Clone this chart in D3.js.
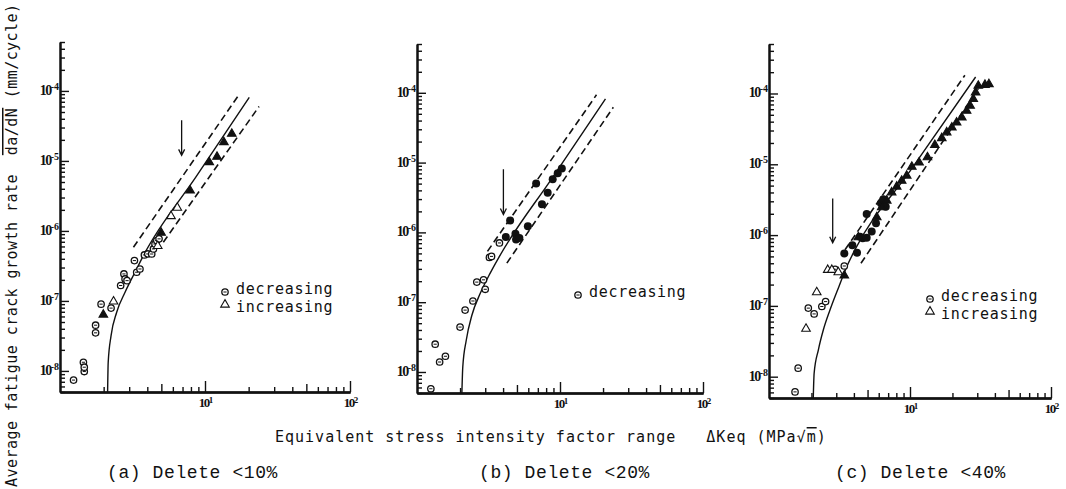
<!DOCTYPE html>
<html>
<head>
<meta charset="utf-8">
<script src="https://cdn.jsdelivr.net/npm/d3@7"></script>
<style>
  body { margin: 0; background: #fff; }
  svg { display: block; }
  .mono { font-family: "DejaVu Sans Mono", monospace; }
  .cap { font-family: "Liberation Mono", "Courier New", monospace; }
  .tk { font-family: "Liberation Serif", serif; font-weight: bold; }
</style>
</head>
<body>
<script>
// data: [dK (MPa sqrt m), da/dN (mm/cycle)]

// (a) Delete <10%
var decA = [[1.24, 7.4e-9], [1.45, 1.33e-8], [1.47, 9.8e-9], [1.47, 1.13e-8], [1.76, 4.5e-8], [1.76, 3.5e-8],
  [1.92, 9.0e-8], [2.25, 7.9e-8], [2.62, 1.66e-7], [2.76, 2.43e-7], [2.81, 2.06e-7], [2.90, 1.95e-7],
  [3.26, 3.77e-7], [3.38, 2.57e-7], [3.56, 2.86e-7], [3.82, 4.54e-7], [4.03, 4.69e-7], [4.29, 4.68e-7],
  [4.41, 5.53e-7], [4.52, 6.5e-7], [4.65, 7.3e-7], [4.82, 7.7e-7]];
var incOpenA = [[2.34, 1.0e-7], [4.72, 6.2e-7], [5.83, 1.66e-6], [6.44, 2.19e-6]];
var incFilledA = [[1.99, 6.5e-8], [4.98, 9.6e-7], [7.89, 3.85e-6], [10.7, 9.8e-6], [12.1, 1.17e-5],
  [13.5, 1.89e-5], [15.3, 2.49e-5]];
var curveA = [[2.13, 5e-9], [2.15, 1.33e-8], [2.25, 3.19e-8], [2.46, 6.9e-8], [2.81, 1.33e-7],
  [3.29, 2.57e-7], [3.76, 4.44e-7], [8.71, 6.0e-6], [20.2, 8.1e-5]];
var upperA = [[3.21, 5.85e-7], [17.3, 9.06e-5]];
var lowerA = [[5.16, 6.9e-7], [23.6, 6.0e-5]];
var arrowA = [6.9, 3.8e-5, 1.2e-5];

// (b) Delete <20%
var decOpenB = [[1.25, 5.75e-9], [1.34, 2.5e-8], [1.44, 1.39e-8], [1.58, 1.68e-8], [2.0, 4.4e-8],
  [2.17, 7.7e-8], [2.46, 1.04e-7], [2.62, 1.94e-7], [2.92, 2.09e-7], [3.0, 1.53e-7], [3.21, 4.38e-7],
  [3.32, 4.53e-7], [3.77, 7.06e-7]];
var decFilledB = [[4.18, 8.6e-7], [4.48, 1.48e-6], [4.88, 9.6e-7], [4.93, 7.9e-7], [5.2, 8.3e-7],
  [5.96, 1.22e-6], [6.81, 5.0e-6], [7.48, 2.52e-6], [8.2, 3.7e-6], [8.89, 5.77e-6], [9.64, 7.03e-6],
  [10.3, 8.2e-6]];
var curveB = [[2.06, 5e-9], [2.09, 1.18e-8], [2.21, 2.85e-8], [2.42, 6.5e-8], [2.77, 1.34e-7],
  [3.25, 2.61e-7], [3.77, 4.53e-7], [8.91, 6.2e-6], [20.8, 8.2e-5]];
var upperB = [[3.11, 5.35e-7], [18.0, 9.35e-5]];
var lowerB = [[4.25, 3.63e-7], [23.6, 6.2e-5]];
var arrowB = [4.02, 8.0e-6, 1.8e-6];

// (c) Delete <40%
var decOpenC = [[1.53, 6.1e-9], [1.61, 1.32e-8], [1.90, 9.3e-8], [2.09, 7.7e-8], [2.37, 9.8e-8],
  [2.52, 1.15e-7], [2.94, 3.29e-7], [3.42, 3.66e-7]];
var decFilledC = [[3.42, 5.5e-7], [3.90, 7.2e-7], [4.21, 5.65e-7], [4.42, 9.5e-7], [4.62, 9.0e-7],
  [4.93, 9.2e-7], [5.35, 1.12e-6], [4.93, 1.99e-6], [5.74, 1.47e-6], [6.22, 2.81e-6], [6.47, 3.2e-6],
  [6.73, 2.52e-6]];
var incOpenC = [[1.83, 4.84e-8], [2.18, 1.59e-7], [2.61, 3.29e-7], [2.79, 3.29e-7], [3.10, 3.05e-7]];
var incFilledC = [[3.42, 2.74e-7], [4.30, 9.5e-7], [5.81, 1.82e-6], [6.3, 2.52e-6], [6.84, 3.13e-6],
  [7.41, 4.09e-6], [8.05, 4.93e-6], [8.73, 5.98e-6], [9.48, 7.05e-6], [10.3, 9.4e-6], [11.6, 1.08e-5],
  [13.3, 1.28e-5], [15.0, 1.91e-5], [16.8, 2.39e-5], [18.2, 2.88e-5], [19.8, 3.38e-5], [21.4, 3.97e-5],
  [23.3, 4.68e-5], [25.2, 5.81e-5], [26.7, 6.84e-5], [28.1, 8.5e-5], [29.2, 1.05e-4], [30.5, 1.31e-4],
  [34.0, 1.35e-4], [36.3, 1.38e-4]];
var curveC = [[2.06, 5e-9], [2.09, 1.12e-8], [2.24, 2.4e-8], [2.43, 4.6e-8], [2.71, 8.8e-8],
  [3.13, 1.87e-7], [3.56, 3.58e-7], [4.07, 6.2e-7], [10, 8.0e-6], [29.2, 1.71e-4]];
var upperC = [[3.46, 6.2e-7], [24.5, 1.81e-4]];
var lowerC = [[4.49, 4.0e-7], [30.5, 1.17e-4]];
var arrowC = [2.83, 3.3e-6, 7.8e-7];

var yExponents = [-4, -5, -6, -7, -8];
var xExponents = [1, 2];
var captions = ["(a) Delete <10%", "(b) Delete <20%", "(c) Delete <40%"];

var width = 1066, height = 489;
var svg = d3.select("body").append("svg")
    .attr("width", width)
    .attr("height", height);

// panel frames (pixels)
var panels = [
  {x0: 60, x1: 350, top: 42, bot: 392, capX: 107, legX: 225, legY: 292, hasInc: true,
    sets: [[decA, "oc"], [incOpenA, "ot"], [incFilledA, "ft"]], curve: curveA, upper: upperA, lower: lowerA, arrow: arrowA},
  {x0: 417, x1: 703, top: 44, bot: 393, capX: 479, legX: 578, legY: 295, hasInc: false,
    sets: [[decOpenB, "oc"], [decFilledB, "fc"]], curve: curveB, upper: upperB, lower: lowerB, arrow: arrowB},
  {x0: 769, x1: 1051, top: 44, bot: 398, capX: 835, legX: 930, legY: 299, hasInc: true,
    sets: [[decOpenC, "oc"], [incOpenC, "ot"], [decFilledC, "fc"], [incFilledC, "ft"]], curve: curveC, upper: upperC, lower: lowerC, arrow: arrowC}
];

function marker(g, kind, cx, cy) {
  if (kind === "oc") {
    g.append("circle").attr("cx", cx).attr("cy", cy).attr("r", 3.2)
        .attr("fill", "#fff").attr("stroke", "#111").attr("stroke-width", 1.3);
    g.append("line").attr("x1", cx - 1.6).attr("x2", cx + 1.6).attr("y1", cy).attr("y2", cy)
        .attr("stroke", "#111").attr("stroke-width", 1);
  } else if (kind === "fc") {
    g.append("circle").attr("cx", cx).attr("cy", cy).attr("r", 4).attr("fill", "#111");
  } else {
    g.append("path")
        .attr("d", d3.symbol(d3.symbolTriangle).size(32)())
        .attr("transform", "translate(" + cx + "," + (cy + 0.6) + ")")
        .attr("fill", kind === "ft" ? "#111" : "#fff")
        .attr("stroke", "#111").attr("stroke-width", 1.1);
  }
}

panels.forEach(function (p, i) {
  var x = d3.scaleLog().domain([1, 100]).range([p.x0, p.x1]);
  var y = d3.scaleLog().domain([5e-9, 5e-4]).range([p.bot, p.top]);
  var g = svg.append("g");

  var yTicks = y.ticks();
  var yMajor = yTicks.filter(function (t) { return Math.abs(Math.log10(t) - Math.round(Math.log10(t))) < 1e-6; });
  var yMinor = yTicks.filter(function (t) { return yMajor.indexOf(t) < 0; });
  var xTicks = x.ticks().filter(function (t) { return t > 1; });
  var xMajor = xTicks.filter(function (t) { return t === 10 || t === 100; });
  var xMid = xTicks.filter(function (t) { return t === 5 || t === 50; });
  var xMinor = xTicks.filter(function (t) { return xMajor.indexOf(t) < 0 && xMid.indexOf(t) < 0; });

  // y axis (ticks inward)
  var yAx = g.append("g").attr("transform", "translate(" + p.x0 + ",0)");
  yAx.append("g").call(d3.axisRight(y).tickValues(yMinor).tickSize(5).tickSizeOuter(0).tickFormat(""));
  yAx.append("g").call(d3.axisRight(y).tickValues(yMajor).tickSize(9).tickSizeOuter(0).tickFormat(""));

  // x axis (ticks upward)
  var xAx = g.append("g").attr("transform", "translate(0," + p.bot + ")");
  xAx.append("g").call(d3.axisTop(x).tickValues(xMinor).tickSize(5).tickSizeOuter(0).tickFormat(""));
  xAx.append("g").call(d3.axisTop(x).tickValues(xMid).tickSize(8).tickSizeOuter(0).tickFormat(""));
  xAx.append("g").call(d3.axisTop(x).tickValues(xMajor).tickSize(11).tickSizeOuter(0).tickFormat(""));

  g.selectAll(".domain").attr("stroke", "#111").attr("stroke-width", 2);
  g.selectAll(".tick line").attr("stroke", "#111").attr("stroke-width", 1.4);

  // y tick labels 10^n
  yExponents.forEach(function (e) {
    var t = g.append("text").attr("class", "tk").attr("text-anchor", "end")
        .attr("x", p.x0 - 1).attr("y", y(Math.pow(10, e)) + 4).attr("fill", "#111");
    t.append("tspan").attr("font-size", 14).attr("letter-spacing", -1.5).text("10");
    t.append("tspan").attr("font-size", 10).attr("dy", -5).text("-" + Math.abs(e));
  });

  // x tick labels
  xExponents.forEach(function (e) {
    var t = g.append("text").attr("class", "tk").attr("text-anchor", "middle")
        .attr("x", x(Math.pow(10, e)) + 1).attr("y", p.bot + 15).attr("fill", "#111");
    t.append("tspan").attr("font-size", 13).attr("letter-spacing", -1.5).text("10");
    t.append("tspan").attr("font-size", 9).attr("dy", -4).text(e);
  });

  var line = d3.line()
      .x(function (d) { return x(d[0]); })
      .y(function (d) { return y(d[1]); });

  g.append("path").datum(p.curve)
      .attr("d", line.curve(d3.curveMonotoneX))
      .attr("fill", "none").attr("stroke", "#111").attr("stroke-width", 1.4);
  line.curve(d3.curveLinear);
  [p.upper, p.lower].forEach(function (band) {
    g.append("path").datum(band)
        .attr("d", line)
        .attr("fill", "none").attr("stroke", "#111").attr("stroke-width", 1.6)
        .attr("stroke-dasharray", "7,4");
  });

  // arrow
  var ax = x(p.arrow[0]), ay1 = y(p.arrow[1]), ay2 = y(p.arrow[2]);
  g.append("path")
      .attr("d", "M" + ax + "," + ay1 + "L" + ax + "," + ay2 +
          "M" + (ax - 3) + "," + (ay2 - 6) + "L" + ax + "," + ay2 + "L" + (ax + 3) + "," + (ay2 - 6))
      .attr("fill", "none").attr("stroke", "#111").attr("stroke-width", 1.3);

  // points
  p.sets.forEach(function (s) {
    s[0].forEach(function (d) { marker(g, s[1], x(d[0]), y(d[1])); });
  });

  // legend
  marker(g, "oc", p.legX, p.legY);
  g.append("text").attr("class", "mono").attr("font-size", 15).attr("letter-spacing", 0.7)
      .attr("x", p.legX + 11).attr("y", p.legY + 2).attr("fill", "#111").text("decreasing");
  if (p.hasInc) {
    marker(g, "ot", p.legX, p.legY + 12);
    g.append("text").attr("class", "mono").attr("font-size", 15).attr("letter-spacing", 0.7)
        .attr("x", p.legX + 11).attr("y", p.legY + 20).attr("fill", "#111").text("increasing");
  }

  // caption
  svg.append("text").attr("class", "cap").attr("font-size", 18).attr("letter-spacing", 0.6)
      .attr("x", p.capX).attr("y", 478).attr("fill", "#111").text(captions[i]);
});

// x axis title
var xt = svg.append("text").attr("class", "mono").attr("font-size", 15).attr("letter-spacing", 1)
    .attr("x", 275).attr("y", 442).attr("fill", "#111").style("white-space", "pre");
xt.append("tspan").text("Equivalent stress intensity factor range   \u0394Keq (MPa\u221A");
xt.append("tspan").style("text-decoration", "overline").text("m");
xt.append("tspan").text(")");

// y axis title
var yt = svg.append("text").attr("class", "mono").attr("font-size", 15).attr("letter-spacing", 0.45)
    .attr("transform", "translate(17,487) rotate(-90)").attr("fill", "#111").style("white-space", "pre");
yt.append("tspan").text("Average fatigue crack growth rate  ");
yt.append("tspan").style("text-decoration", "overline").text("da/dN");
yt.append("tspan").text(" (mm/cycle)");
</script>
</body>
</html>
